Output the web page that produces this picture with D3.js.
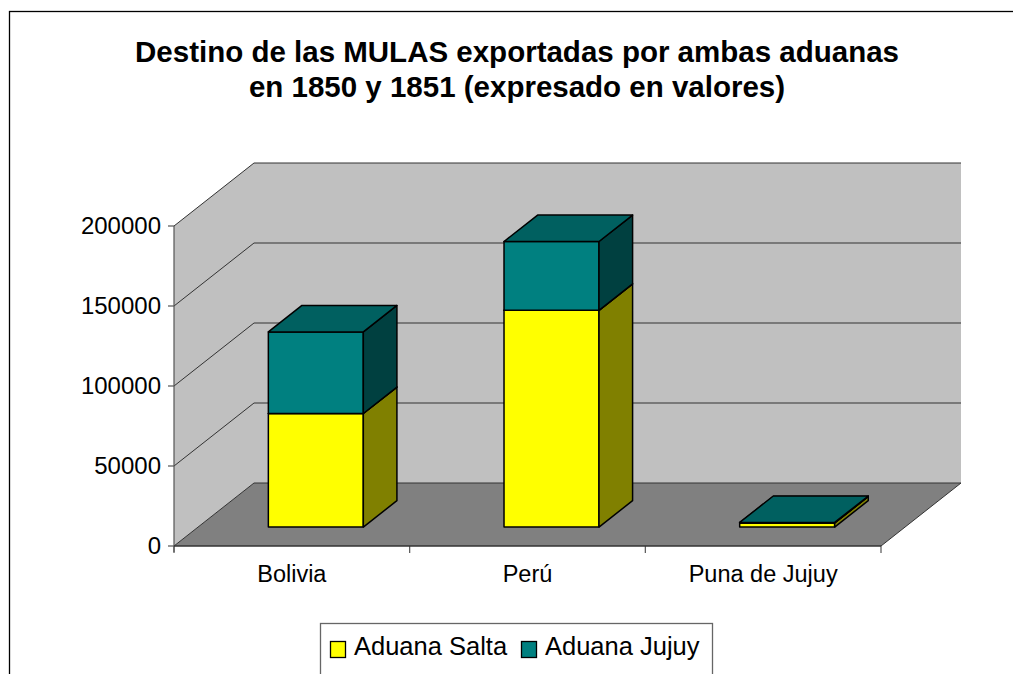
<!DOCTYPE html>
<html><head><meta charset="utf-8">
<script src="https://cdn.jsdelivr.net/npm/d3@7"></script>
<style>body{margin:0;background:#fff}svg{display:block}</style>
</head><body>
<script>
const categories = ["Bolivia", "Perú", "Puna de Jujuy"];
const seriesNames = ["Aduana Salta", "Aduana Jujuy"];
const aduanaSalta = [71000, 135500, 2600];
const aduanaJujuy = [51000, 43000, 300];
const yTicks = [0, 50000, 100000, 150000, 200000];
const titleLines = ["Destino de las MULAS exportadas por ambas aduanas", "en 1850 y 1851 (expresado en valores)"];

const W = 1013, H = 674;
const FONT = "'Liberation Sans', Arial, sans-serif";
const svg = d3.select("body").append("svg").attr("width", W).attr("height", H);

// chart border
svg.append("rect").attr("x", 9.5).attr("y", 11.5).attr("width", 1020).attr("height", 700)
  .attr("fill", "#fff").attr("stroke", "#000").attr("stroke-width", 1.3);

// title
svg.append("g").selectAll("text").data(titleLines).join("text")
  .attr("x", 517).attr("y", (d, i) => 62 + i * 35)
  .attr("text-anchor", "middle").attr("font-family", FONT).attr("font-weight", "bold")
  .attr("font-size", 29.5).text(d => d);

// 3D geometry
const X0 = 174, X1 = 881, Y0 = 546, Y1 = 226;
const DX = 80, DY = -63;
const P = (x, y, d) => [x + d * DX, y + d * DY];

const xAxisBand = d3.scaleBand().domain(categories).range([X0, X1]).padding(0);
const xBar = d3.scaleBand().domain(categories).range([X0, X1]).paddingInner(0.597).paddingOuter(0.2985);
const y = d3.scaleLinear().domain([0, 200000]).range([Y0, Y1]);

const poly = pts => "M" + pts.map(p => p.join(",")).join("L") + "Z";

// walls
const yMax = y(200000), yMin = y(0);
svg.append("path").attr("d", poly([P(X0, yMin, 0), P(X0, yMin, 1), P(X0, yMax, 1), P(X0, yMax, 0)]))
  .attr("fill", "#c0c0c0");
svg.append("path").attr("d", poly([P(X0, yMin, 1), P(X1, yMin, 1), P(X1, yMax, 1), P(X0, yMax, 1)]))
  .attr("fill", "#c0c0c0");
// floor
svg.append("path").attr("d", poly([P(X0, yMin, 0), P(X1, yMin, 0), P(X1, yMin, 1), P(X0, yMin, 1)]))
  .attr("fill", "#808080");

// gridlines
const grid = svg.append("g").attr("fill", "none").attr("stroke", "#333").attr("stroke-width", 1);
yTicks.forEach(t => {
  const a = P(X0, y(t), 0), b = P(X0, y(t), 1), c = P(X1, y(t), 1);
  grid.append("path").attr("d", "M" + a + "L" + b + "L" + c);
});
// floor right edge
grid.append("path").attr("d", "M" + P(X1, yMin, 0) + "L" + P(X1, yMin, 1));

// value axis
const ax = svg.append("g").attr("stroke", "#555").attr("stroke-width", 1.2);
ax.append("line").attr("x1", X0).attr("x2", X0).attr("y1", yMax).attr("y2", yMin + 6);
yTicks.forEach(t => ax.append("line").attr("x1", X0 - 6).attr("x2", X0).attr("y1", y(t)).attr("y2", y(t)));
svg.append("line").attr("x1", X0).attr("x2", X1).attr("y1", yMin).attr("y2", yMin)
  .attr("stroke", "#333").attr("stroke-width", 1.3);
const catEdges = categories.map(c => xAxisBand(c)).concat([X1]);
catEdges.forEach(x => ax.append("line").attr("x1", x).attr("x2", x).attr("y1", yMin).attr("y2", yMin + 7));

svg.append("g").selectAll("text").data(yTicks).join("text")
  .attr("x", X0 - 13).attr("y", d => y(d) + 7.5).attr("text-anchor", "end")
  .attr("font-family", FONT).attr("font-size", 24).text(d => d);

svg.append("g").selectAll("text").data(categories).join("text")
  .attr("x", d => xAxisBand(d) + xAxisBand.bandwidth() / 2).attr("y", 582)
  .attr("text-anchor", "middle").attr("font-family", FONT).attr("font-size", 23.5).text(d => d);

// bars
const colors = [
  {front: "#ffff00", side: "#808000", top: "#c0c000"},
  {front: "#008080", side: "#004040", top: "#006060"}
];
const dFront = 0.3, dBack = 0.72;
const series = [aduanaSalta, aduanaJujuy];
const bars = svg.append("g").attr("stroke", "#000").attr("stroke-width", 1.5).attr("stroke-linejoin", "round");
categories.forEach((c, i) => {
  let base = 0;
  series.forEach((s, k) => {
    const v0 = base, v1 = base + s[i];
    base = v1;
    const L = xBar(c), R = xBar(c) + xBar.bandwidth();
    const fBL = P(L, y(v0), dFront), fBR = P(R, y(v0), dFront), fTR = P(R, y(v1), dFront), fTL = P(L, y(v1), dFront);
    const bBR = P(R, y(v0), dBack), bTR = P(R, y(v1), dBack), bTL = P(L, y(v1), dBack);
    bars.append("path").attr("d", poly([fBL, fBR, fTR, fTL])).attr("fill", colors[k].front);
    bars.append("path").attr("d", poly([fBR, bBR, bTR, fTR])).attr("fill", colors[k].side);
    bars.append("path").attr("d", poly([fTL, fTR, bTR, bTL])).attr("fill", colors[k].top);
  });
});

// legend
const lg = svg.append("g");
lg.append("rect").attr("x", 320.5).attr("y", 623.5).attr("width", 392).attr("height", 80)
  .attr("fill", "#fff").attr("stroke", "#666").attr("stroke-width", 1.3);
const legX = [330, 521];
seriesNames.forEach((n, k) => {
  lg.append("rect").attr("x", legX[k] + 0.5).attr("y", 641.5).attr("width", 15).attr("height", 16)
    .attr("fill", colors[k].front).attr("stroke", "#000").attr("stroke-width", 1.3);
  lg.append("text").attr("x", legX[k] + 24).attr("y", 655).attr("font-family", FONT)
    .attr("font-size", 25.5).text(n);
});
</script>
</body></html>
